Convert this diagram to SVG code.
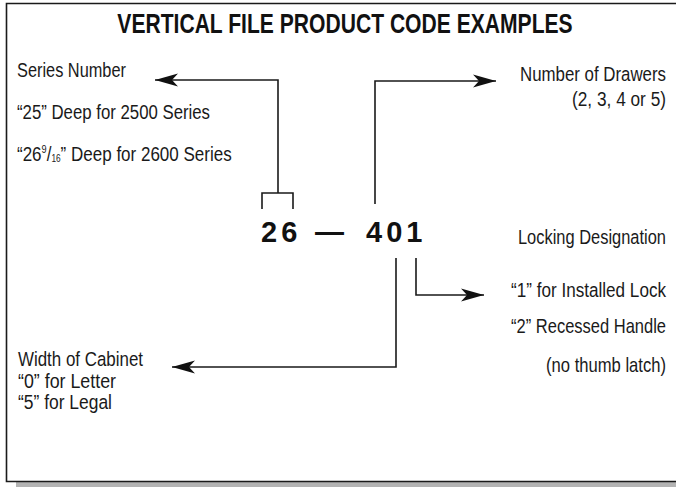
<svg xmlns="http://www.w3.org/2000/svg" width="676" height="487" viewBox="0 0 676 487">
<defs>
<style>
.t{font-family:"Liberation Sans",Arial,sans-serif;font-size:20.5px;fill:#1a1a1a}
.r{text-anchor:end}
.title{font-family:"Liberation Sans",Arial,sans-serif;font-weight:bold;font-size:27.5px;fill:#111;text-anchor:middle}
.code{font-family:"Liberation Sans",Arial,sans-serif;font-weight:bold;font-size:29px;fill:#111;letter-spacing:4px}
.ln{fill:none;stroke:#1a1a1a;stroke-width:1.6}
</style>
<marker id="ah" viewBox="-23 -7 24 14" refX="0" refY="0" markerWidth="24" markerHeight="14" markerUnits="userSpaceOnUse" orient="auto">
<path d="M0,0 L-23,-6.5 L-17,0 L-23,6.5 Z" fill="#111"/>
</marker>
</defs>
<g id="frame">
<rect x="16" y="482" width="660" height="5" fill="#b3b3b3"/>
<rect x="6.5" y="3.5" width="669.5" height="478" fill="#fff"/>
<path d="M676,3.5 H6.5 V481.5 H676" fill="none" stroke="#1a1a1a" stroke-width="1.6"/>
</g>
<g id="title"><text class="title" transform="translate(345,33) scale(0.767,1)">VERTICAL FILE PRODUCT CODE EXAMPLES</text></g>
<g id="code">
<text class="code" x="261" y="242">26</text>
<text class="code" x="315" y="242" textLength="33" lengthAdjust="spacingAndGlyphs">—</text>
<text class="code" x="366" y="242">401</text>
</g>
<g id="series">
<text class="t" x="17" y="77" textLength="109" lengthAdjust="spacingAndGlyphs">Series Number</text>
<text class="t" x="17" y="119" textLength="193" lengthAdjust="spacingAndGlyphs">“25” Deep for 2500 Series</text>
<text class="t" transform="translate(17,161) scale(0.83,1)">“26<tspan font-size="11" dy="-8">9</tspan><tspan dy="8">/</tspan><tspan font-size="10" dy="1">16</tspan><tspan dy="-1">” Deep for 2600 Series</tspan></text>
</g>
<g id="drawers">
<text class="t r" transform="translate(666,81) scale(0.822,1)">Number of Drawers</text>
<text class="t r" transform="translate(666,106) scale(0.842,1)">(2, 3, 4 or 5)</text>
</g>
<g id="locking">
<text class="t r" transform="translate(666,244) scale(0.802,1)">Locking Designation</text>
<text class="t r" transform="translate(666,297) scale(0.835,1)">“1” for Installed Lock</text>
<text class="t r" transform="translate(666,333) scale(0.805,1)">“2” Recessed Handle</text>
<text class="t r" transform="translate(666,372) scale(0.81,1)">(no thumb latch)</text>
</g>
<g id="width">
<text class="t" x="18" y="366" textLength="125" lengthAdjust="spacingAndGlyphs">Width of Cabinet</text>
<text class="t" x="18" y="388" textLength="98" lengthAdjust="spacingAndGlyphs">“0” for Letter</text>
<text class="t" x="18" y="409" textLength="94" lengthAdjust="spacingAndGlyphs">“5” for Legal</text>
</g>
<g id="connectors">
<path class="ln" d="M262,209 V193 H293 V209"/>
<path class="ln" d="M278,193 V80 H155" marker-end="url(#ah)"/>
<path class="ln" d="M375,204 V81 H496" marker-end="url(#ah)"/>
<path class="ln" d="M416,258 V295 H484" marker-end="url(#ah)"/>
<path class="ln" d="M396,258 V367 H172" marker-end="url(#ah)"/>
</g>
</svg>
